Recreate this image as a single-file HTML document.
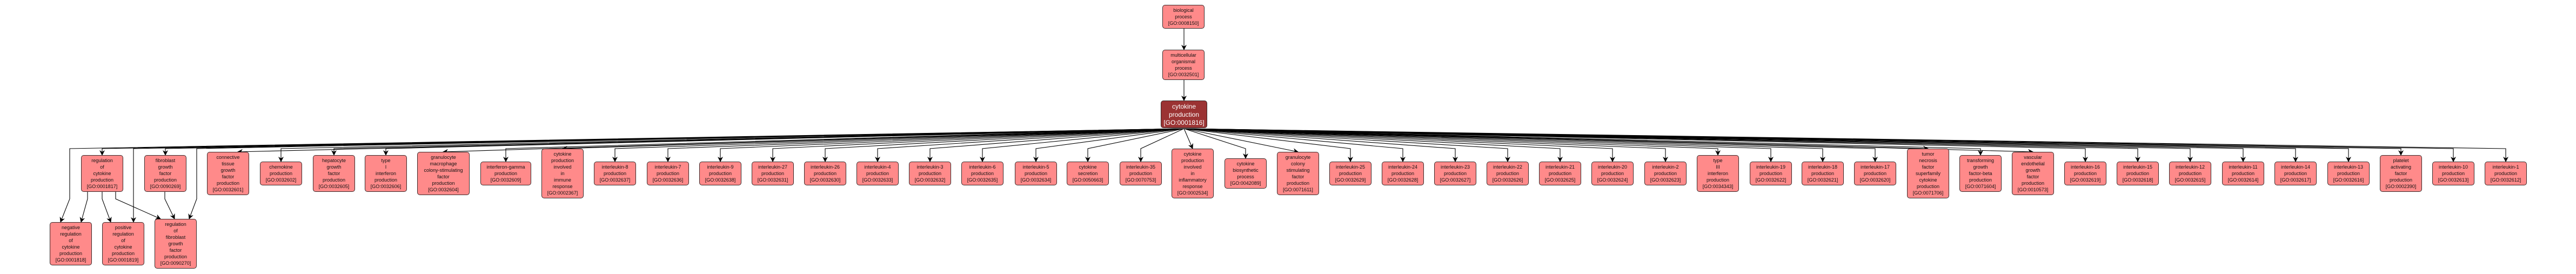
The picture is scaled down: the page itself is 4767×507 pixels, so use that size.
<!DOCTYPE html>
<html><head><meta charset="utf-8">
<style>
html,body{margin:0;padding:0;background:#fff;}
body{width:4767px;height:507px;position:relative;overflow:hidden;}
svg{position:absolute;left:0;top:0;}
.n{position:absolute;width:78px;background:#ff8a8a;border:1px solid #3a2a2a;border-radius:5px;font:9px/12px "Liberation Sans",sans-serif;color:#111;text-align:center;box-sizing:border-box;padding-top:3px;white-space:nowrap;}
.h3{height:44px;top:299px}.h4{height:56px;top:293px}.h5{height:68px;top:287px}.h6{height:80px;top:281px}.h7{height:92px;top:275px}
.root{background:#9b3333;color:#fff;font-size:12px;line-height:15px;width:86px;height:51px;padding-top:3px;}
</style></head><body>
<svg width="4767" height="507" xmlns="http://www.w3.org/2000/svg">
<defs><marker id="a" markerWidth="10" markerHeight="10" refX="9" refY="5" orient="auto" markerUnits="userSpaceOnUse"><path d="M0,0 L10,5 L0,10 L3,5 z" fill="#000"/></marker></defs>
<g fill="none" stroke="#000" stroke-width="1.1" marker-end="url(#a)">
<path d="M2191 53 L2191 92"/>
<path d="M2191 148 L2191 186"/>
<path d="M2191 238 L129 275 L129 368 L112 411"/>
<path d="M2191 238 L247 275 L247 411"/>
<path d="M2191 238 L364 275 L364 368 L350 405"/>
<path d="M162 355 L162 368 L150 411"/>
<path d="M189 355 L189 368 L205 411"/>
<path d="M214 355 L214 368 L297 405"/>
<path d="M305 355 L305 368 L323 405"/>
<path d="M2191 238 L189 275 L189 287"/>
<path d="M2191 238 L306 275 L306 287"/>
<path d="M2191 238 L440 281"/>
<path d="M2191 238 L520 275 L520 299"/>
<path d="M2191 238 L618 275 L618 287"/>
<path d="M2191 238 L714 275 L714 287"/>
<path d="M2191 238 L820 281"/>
<path d="M2191 238 L936 275 L936 299"/>
<path d="M2191 238 L1041 275"/>
<path d="M2191 238 L1138 275 L1138 299"/>
<path d="M2191 238 L1236 275 L1236 299"/>
<path d="M2191 238 L1333 275 L1333 299"/>
<path d="M2191 238 L1430 275 L1430 299"/>
<path d="M2191 238 L1527 275 L1527 299"/>
<path d="M2191 238 L1624 275 L1624 299"/>
<path d="M2191 238 L1721 275 L1721 299"/>
<path d="M2191 238 L1818 275 L1818 299"/>
<path d="M2191 238 L1917 275 L1917 299"/>
<path d="M2191 238 L2013 275 L2013 299"/>
<path d="M2191 238 L2111 275 L2111 299"/>
<path d="M2191 238 L2207 275"/>
<path d="M2191 238 L2305 275 L2305 293"/>
<path d="M2191 238 L2402 281"/>
<path d="M2191 238 L2499 275 L2499 299"/>
<path d="M2191 238 L2596 275 L2596 299"/>
<path d="M2191 238 L2693 275 L2693 299"/>
<path d="M2191 238 L2790 275 L2790 299"/>
<path d="M2191 238 L2887 275 L2887 299"/>
<path d="M2191 238 L2984 275 L2984 299"/>
<path d="M2191 238 L3082 275 L3082 299"/>
<path d="M2191 238 L3179 275 L3179 287"/>
<path d="M2191 238 L3277 275 L3277 299"/>
<path d="M2191 238 L3373 275 L3373 299"/>
<path d="M2191 238 L3470 275 L3470 299"/>
<path d="M2191 238 L3568 275"/>
<path d="M2191 238 L3665 275 L3665 287"/>
<path d="M2191 238 L3762 281"/>
<path d="M2191 238 L3859 275 L3859 299"/>
<path d="M2191 238 L3956 275 L3956 299"/>
<path d="M2191 238 L4053 275 L4053 299"/>
<path d="M2191 238 L4151 275 L4151 299"/>
<path d="M2191 238 L4248 275 L4248 299"/>
<path d="M2191 238 L4346 275 L4346 299"/>
<path d="M2191 238 L4443 275 L4443 287"/>
<path d="M2191 238 L4540 275 L4540 299"/>
<path d="M2191 238 L4637 275 L4637 299"/>
</g></svg>

<div class="n" style="left:2151px;top:9px;height:44px;">biological<br>process<br>[GO:0008150]</div>
<div class="n" style="left:2151px;top:92px;height:56px;">multicellular<br>organismal<br>process<br>[GO:0032501]</div>
<div class="n root" style="left:2148px;top:186px;">cytokine<br>production<br>[GO:0001816]</div>

<div class="n h5" style="left:150px">regulation<br>of<br>cytokine<br>production<br>[GO:0001817]</div>
<div class="n h5" style="left:267px">fibroblast<br>growth<br>factor<br>production<br>[GO:0090269]</div>
<div class="n h6" style="left:383px">connective<br>tissue<br>growth<br>factor<br>production<br>[GO:0032601]</div>
<div class="n h3" style="left:481px">chemokine<br>production<br>[GO:0032602]</div>
<div class="n h5" style="left:579px">hepatocyte<br>growth<br>factor<br>production<br>[GO:0032605]</div>
<div class="n h5" style="left:675px">type<br>I<br>interferon<br>production<br>[GO:0032606]</div>
<div class="n h6" style="left:772px;width:97px">granulocyte<br>macrophage<br>colony-stimulating<br>factor<br>production<br>[GO:0032604]</div>
<div class="n h3" style="left:889px;width:94px">interferon-gamma<br>production<br>[GO:0032609]</div>
<div class="n h7" style="left:1002px">cytokine<br>production<br>involved<br>in<br>immune<br>response<br>[GO:0002367]</div>
<div class="n h3" style="left:1099px">interleukin-8<br>production<br>[GO:0032637]</div>
<div class="n h3" style="left:1197px">interleukin-7<br>production<br>[GO:0032636]</div>
<div class="n h3" style="left:1294px">interleukin-9<br>production<br>[GO:0032638]</div>
<div class="n h3" style="left:1391px">interleukin-27<br>production<br>[GO:0032631]</div>
<div class="n h3" style="left:1488px">interleukin-26<br>production<br>[GO:0032630]</div>
<div class="n h3" style="left:1585px">interleukin-4<br>production<br>[GO:0032633]</div>
<div class="n h3" style="left:1682px">interleukin-3<br>production<br>[GO:0032632]</div>
<div class="n h3" style="left:1779px">interleukin-6<br>production<br>[GO:0032635]</div>
<div class="n h3" style="left:1878px">interleukin-5<br>production<br>[GO:0032634]</div>
<div class="n h3" style="left:1974px">cytokine<br>secretion<br>[GO:0050663]</div>
<div class="n h3" style="left:2072px">interleukin-35<br>production<br>[GO:0070753]</div>
<div class="n h7" style="left:2168px">cytokine<br>production<br>involved<br>in<br>inflammatory<br>response<br>[GO:0002534]</div>
<div class="n h4" style="left:2266px">cytokine<br>biosynthetic<br>process<br>[GO:0042089]</div>
<div class="n h6" style="left:2363px">granulocyte<br>colony<br>stimulating<br>factor<br>production<br>[GO:0071611]</div>
<div class="n h3" style="left:2460px">interleukin-25<br>production<br>[GO:0032629]</div>
<div class="n h3" style="left:2557px">interleukin-24<br>production<br>[GO:0032628]</div>
<div class="n h3" style="left:2654px">interleukin-23<br>production<br>[GO:0032627]</div>
<div class="n h3" style="left:2751px">interleukin-22<br>production<br>[GO:0032626]</div>
<div class="n h3" style="left:2848px">interleukin-21<br>production<br>[GO:0032625]</div>
<div class="n h3" style="left:2945px">interleukin-20<br>production<br>[GO:0032624]</div>
<div class="n h3" style="left:3043px">interleukin-2<br>production<br>[GO:0032623]</div>
<div class="n h5" style="left:3140px">type<br>III<br>interferon<br>production<br>[GO:0034343]</div>
<div class="n h3" style="left:3238px">interleukin-19<br>production<br>[GO:0032622]</div>
<div class="n h3" style="left:3334px">interleukin-18<br>production<br>[GO:0032621]</div>
<div class="n h3" style="left:3431px">interleukin-17<br>production<br>[GO:0032620]</div>
<div class="n h7" style="left:3529px">tumor<br>necrosis<br>factor<br>superfamily<br>cytokine<br>production<br>[GO:0071706]</div>
<div class="n h5" style="left:3626px">transforming<br>growth<br>factor-beta<br>production<br>[GO:0071604]</div>
<div class="n h6" style="left:3723px">vascular<br>endothelial<br>growth<br>factor<br>production<br>[GO:0010573]</div>
<div class="n h3" style="left:3820px">interleukin-16<br>production<br>[GO:0032619]</div>
<div class="n h3" style="left:3917px">interleukin-15<br>production<br>[GO:0032618]</div>
<div class="n h3" style="left:4014px">interleukin-12<br>production<br>[GO:0032615]</div>
<div class="n h3" style="left:4112px">interleukin-11<br>production<br>[GO:0032614]</div>
<div class="n h3" style="left:4209px">interleukin-14<br>production<br>[GO:0032617]</div>
<div class="n h3" style="left:4307px">interleukin-13<br>production<br>[GO:0032616]</div>
<div class="n h5" style="left:4404px">platelet<br>activating<br>factor<br>production<br>[GO:0002390]</div>
<div class="n h3" style="left:4501px">interleukin-10<br>production<br>[GO:0032613]</div>
<div class="n h3" style="left:4598px">interleukin-1<br>production<br>[GO:0032612]</div>

<div class="n" style="left:92px;top:411px;height:80px;">negative<br>regulation<br>of<br>cytokine<br>production<br>[GO:0001818]</div>
<div class="n" style="left:189px;top:411px;height:80px;">positive<br>regulation<br>of<br>cytokine<br>production<br>[GO:0001819]</div>
<div class="n" style="left:286px;top:405px;height:92px;">regulation<br>of<br>fibroblast<br>growth<br>factor<br>production<br>[GO:0090270]</div>
</body></html>
